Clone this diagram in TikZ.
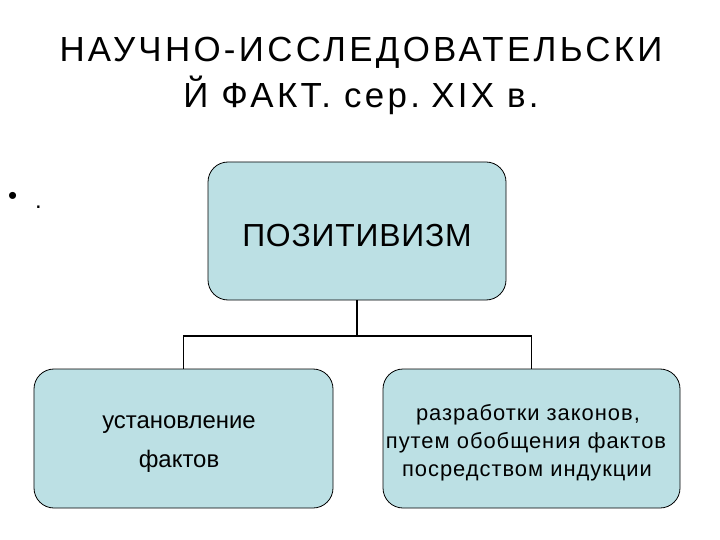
\documentclass[tikz,border=0pt]{standalone}
\usepackage{fontspec}
\setmainfont{Liberation Sans}
\newfontfamily\titlefont[LetterSpace=9.5]{Liberation Sans}
\newfontfamily\rightfont[LetterSpace=4.5]{Liberation Sans}
\newfontfamily\topfont[LetterSpace=2.5]{Liberation Sans}
\definecolor{boxfill}{RGB}{188,224,228}
\begin{document}
\begin{tikzpicture}[x=1bp,y=-1bp,
  boxnode/.style={draw=black,line width=0.8bp,fill=boxfill,rounded corners=20bp,inner sep=0pt},
  link/.style={draw=black,line width=1.2bp}]
\useasboundingbox (0,0) rectangle (720,540);
% title
\node[font=\titlefont\fontsize{35}{46}\selectfont,anchor=base] (t1) at (361,62) {НАУЧНО-ИССЛЕДОВАТЕЛЬСКИ};
\node[font=\titlefont\fontsize{35}{46}\selectfont,anchor=base] (t2) at (361,108) {Й ФАКТ. сер.\hspace{-6bp} XIX в.};
% bullet
\node[font=\fontsize{26}{30}\selectfont,anchor=base west,inner sep=0pt] (b) at (8,205) {•};
\node[font=\fontsize{24}{30}\selectfont,anchor=base west,inner sep=0pt] (dot) at (35,209) {.};
% boxes
\node[boxnode,minimum width=298bp,minimum height=138bp] (top) at (357,231) {};
\node[font=\topfont\fontsize{32}{38}\selectfont,anchor=base] at (357,247) {ПОЗИТИВИЗМ};
\node[boxnode,minimum width=299bp,minimum height=139bp] (left) at (183.5,438.5) {};
\node[font=\fontsize{24}{38}\selectfont,anchor=base] at (179,428) {установление};
\node[font=\fontsize{24}{38}\selectfont,anchor=base] at (179,467) {фактов};
\node[boxnode,minimum width=297bp,minimum height=139bp] (right) at (531.5,438.5) {};
\node[font=\rightfont\fontsize{22}{28}\selectfont,anchor=base] at (528,420) {разработки законов,};
\node[font=\rightfont\fontsize{22}{28}\selectfont,anchor=base] at (526,448) {путем обобщения фактов};
\node[font=\rightfont\fontsize{22}{28}\selectfont,anchor=base] at (527,476) {посредством индукции};
% connectors
\coordinate (mid) at (357,336);
\draw[link] (top.south) -- (mid);
\draw[link] (left.north) |- (mid) -| (right.north);
\end{tikzpicture}
\end{document}
